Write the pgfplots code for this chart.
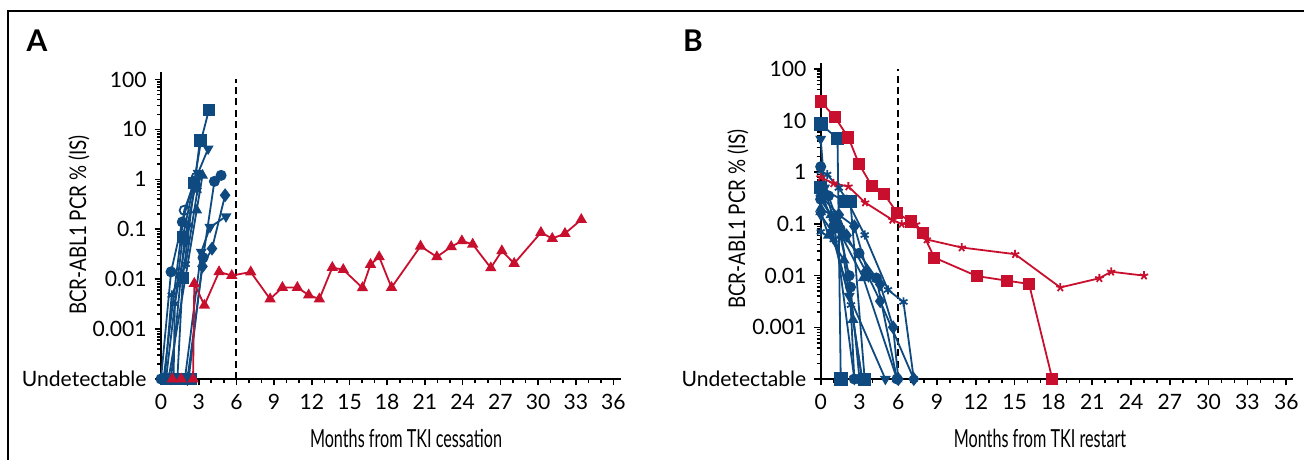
\documentclass[border=0pt]{standalone}
\usepackage{fontspec}
\setmainfont{Lato}
\usepackage{graphicx}
\usepackage{pgfplots}
\pgfplotsset{compat=1.18}
\definecolor{pblue}{RGB}{14,74,128}
\definecolor{pred}{RGB}{200,16,46}

\pgfplotsset{
  panelaxis/.style={
    scale only axis, anchor=south west,
    xmin=0, ymin=1e-4, clip=false,
    axis x line*=bottom, axis y line*=left,
    axis line style={line width=1.2bp},
    tick style={black, line width=0.8bp},
    tick align=outside,
    major tick length=3.2bp, minor tick length=2bp,
    xtick={0,3,...,36}, minor x tick num=2,
    ytick={1e-4,1e-3,1e-2,1e-1,1,10,100},
    yticklabels={Undetectable,0.001,0.01,0.1,1,10,100},
    minor ytick={2e-4,3e-4,4e-4,5e-4,6e-4,7e-4,8e-4,9e-4,
      2e-3,3e-3,4e-3,5e-3,6e-3,7e-3,8e-3,9e-3,
      2e-2,3e-2,4e-2,5e-2,6e-2,7e-2,8e-2,9e-2,
      0.2,0.3,0.4,0.5,0.6,0.7,0.8,0.9,2,3,4,5,6,7,8,9,
      20,30,40,50,60,70,80,90},
    tick label style={font=\fontsize{10.6}{11}\selectfont},
    yticklabel style={xshift=-0.5bp},
    xticklabel style={yshift=-1bp},
    /pgf/number format/assume math mode=true,
  },
  blueline/.style={pblue, line width=0.9bp, mark size=2.3bp, mark options={solid, fill=pblue}},
  redline/.style={pred, line width=0.9bp, mark size=2.4bp, mark options={solid, fill=pred}},
  dashline/.style={black, line width=1bp, dash pattern=on 3.5bp off 2.2bp},
}

\begin{document}
\begin{tikzpicture}
\useasboundingbox (0,0) rectangle (652bp,230bp);
\draw[line width=1.3bp] (4bp,0) -- (4bp,224.5bp) -- (652bp,224.5bp);
\node[font=\fontsize{15}{16}\selectfont\bfseries] at (18.5bp,209.5bp) {A};
\node[font=\fontsize{15}{16}\selectfont\bfseries] at (346.5bp,209.5bp) {B};

% Panel A
\begin{axis}[ymode=log, panelaxis, at={(80.5bp,40.5bp)}, width=230bp, height=153.5bp,
  xmax=36.6, ymax=141.25]
\addplot[dashline] coordinates {(6,1e-4) (6,100)};
\addplot[blueline, mark=square*, mark size=2.6bp] coordinates {(0.4,1e-4) (1.73,0.07) (2.63,0.85) (3.2,6.2) (3.82,24.8)};
\addplot[blueline, mark=square*, mark size=2.6bp] coordinates {(1.3,1e-4) (1.73,0.0105) (3.1,6.0)};
\addplot[blueline, mark=triangle*, mark options={rotate=180}] coordinates {(0.8,1e-4) (1.86,0.06) (2.95,1.34) (3.75,4.1)};
\addplot[blueline, mark=*] coordinates {(0,1e-4) (0.8,0.014) (1.7,0.14) (2.6,0.9)};
\addplot[blueline, mark=o] coordinates {(0.2,1e-4) (1.85,0.24) (2.8,1.1)};
\addplot[blueline, mark=triangle*] coordinates {(0.6,1e-4) (2.84,0.24) (3.3,1.2)};
\addplot[blueline, mark=asterisk] coordinates {(0.3,1e-4) (0.85,0.0048) (1.97,0.02) (2.9,0.6)};
\addplot[blueline, mark=asterisk] coordinates {(1.0,1e-4) (1.1,0.0032) (2.2,0.12)};
\addplot[blueline, mark=triangle*, mark options={rotate=180}] coordinates {(1.9,1e-4) (3.2,0.035) (3.9,0.11) (5.17,0.18)};
\addplot[blueline, mark=diamond*, mark size=2.8bp] coordinates {(2.1,1e-4) (3.3,0.018) (4.06,0.041) (5.1,0.48)};
\addplot[blueline, mark=*] coordinates {(2.2,1e-4) (3.35,0.027) (4.25,0.91) (4.78,1.2)};
\addplot[blueline, mark=square*, mark size=2.6bp] coordinates {(1.5,1e-4) (2.4,1e-4)};
\addplot[redline, mark=triangle*] coordinates {
  (0.9,1e-4) (1.6,1e-4) (2.55,1e-4) (2.65,0.0082) (3.45,0.003) (4.62,0.014)
  (5.63,0.0118) (7.14,0.0139) (8.68,0.0040) (9.66,0.0068) (10.85,0.0068)
  (11.75,0.0048) (12.6,0.0040) (13.63,0.0171) (14.5,0.0155) (16.03,0.0067)
  (16.67,0.0197) (17.36,0.0279) (18.34,0.0068) (20.65,0.0457) (21.95,0.0279)
  (23.09,0.0446) (23.94,0.0583) (24.8,0.050) (26.24,0.0168) (27.12,0.0368)
  (28.1,0.0206) (30.23,0.0859) (31.13,0.0652) (32.14,0.082) (33.44,0.156)};
\end{axis}

% Panel B
\begin{axis}[ymode=log, panelaxis, at={(410.35bp,40.5bp)}, width=236bp, height=157.9bp,
  xmax=36.5, ymax=128.8]
\addplot[dashline] coordinates {(6,1e-4) (6,100)};
\addplot[blueline, mark=square*, mark size=3bp] coordinates {(0,8.5) (1.3,4.5) (1.55,1e-4)};
\addplot[blueline, mark=triangle*, mark options={rotate=180}] coordinates {(0,4.4) (0.3,0.5) (1.0,0.12) (2.6,1e-4)};
\addplot[blueline, mark=*] coordinates {(0,1.28) (0.6,0.35) (1.5,0.08) (2.3,0.006) (3.0,1e-4)};
\addplot[blueline, mark=asterisk] coordinates {(0,1.05) (0.5,0.9) (1.4,0.5) (2.0,0.3) (3.4,0.061) (5.2,0.0053) (6.4,0.0031) (7.2,1e-4)};
\addplot[blueline, mark=square*, mark size=2.8bp] coordinates {(0,0.5) (1.9,0.27) (2.3,0.27) (3.4,1e-4)};
\addplot[blueline, mark=diamond*, mark size=2.8bp] coordinates {(0,0.35) (1.4,0.15) (2.6,0.09) (3.7,0.01) (4.6,0.0068) (5.6,0.001) (6.0,1e-4)};
\addplot[blueline, mark=diamond*, mark size=2.8bp] coordinates {(0,0.3) (1.0,0.12) (2.0,0.06) (3.5,0.012) (4.6,0.0032) (7.2,1e-4)};
\addplot[blueline, mark=*] coordinates {(0,0.45) (1.0,0.09) (2.96,0.027) (4.3,0.009) (5.9,1e-4)};
\addplot[blueline, mark=triangle*] coordinates {(0,0.2) (0.8,0.15) (1.6,0.06) (3.3,0.009) (5.9,1e-4)};
\addplot[blueline, mark=triangle*, mark options={rotate=180}] coordinates {(0,0.15) (0.9,0.07) (2.2,0.004) (5.0,1e-4)};
\addplot[blueline, mark=triangle*] coordinates {(0,0.17) (0.6,0.06) (1.8,0.02) (2.5,0.0014) (3.2,1e-4)};
\addplot[blueline, mark=asterisk] coordinates {(0,0.07) (1.0,0.05) (2.34,0.0027) (3.2,1e-4)};
\addplot[blueline, mark=*] coordinates {(0,0.3) (1.3,0.1) (2.2,0.01) (2.6,1e-4)};
\addplot[redline, mark=square*, mark size=2.6bp] coordinates {
  (0,23.3) (1.1,11.6) (2.14,4.7) (2.96,1.45) (3.94,0.55) (4.92,0.375) (5.93,0.161)
  (6.98,0.111) (7.89,0.066) (8.79,0.0223) (12.07,0.0098) (14.39,0.008) (16.11,0.0069) (17.91,1e-4)};
\addplot[redline, mark=star, mark size=2.2bp] coordinates {
  (0,0.80) (0.98,0.61) (2.14,0.53) (3.43,0.26) (5.54,0.12) (6.26,0.10) (7.37,0.098)
  (8.2,0.050) (10.9,0.035) (15.03,0.026) (18.53,0.0059) (21.55,0.0089) (22.46,0.0119) (25.0,0.010)};
\end{axis}

\node[rotate=90, font=\fontsize{11.5}{12}\selectfont] at (39.5bp,117.5bp) {\scalebox{0.82}[1]{BCR-ABL1 PCR \% (IS)}};
\node[rotate=90, font=\fontsize{11.5}{12}\selectfont] at (369bp,120.5bp) {\scalebox{0.82}[1]{BCR-ABL1 PCR \% (IS)}};
\node[font=\fontsize{12.5}{13}\selectfont] at (203bp,11bp) {\scalebox{0.65}[1]{Months from TKI cessation}};
\node[font=\fontsize{12.5}{13}\selectfont] at (520bp,11bp) {\scalebox{0.65}[1]{Months from TKI restart}};
\end{tikzpicture}
\end{document}
